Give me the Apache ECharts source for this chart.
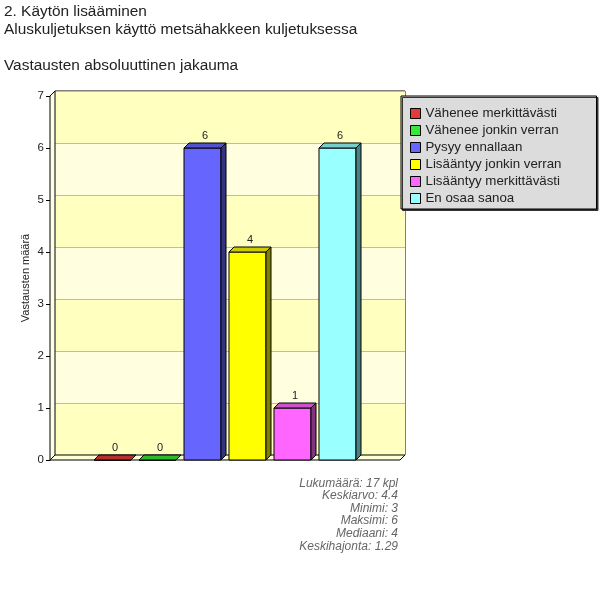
<!DOCTYPE html>
<html>
<head>
<meta charset="utf-8">
<script src="https://cdn.jsdelivr.net/npm/echarts@6/dist/echarts.min.js"></script>
<style>
  html, body { margin: 0; padding: 0; background: #fff; }
  #chart { width: 600px; height: 596px; }
</style>
</head>
<body>
<div id="chart"></div>
<script>
// data
var titleLines = ['2. Käytön lisääminen', 'Aluskuljetuksen käyttö metsähakkeen kuljetuksessa', '', 'Vastausten absoluuttinen jakauma'];
var categories = ['Vähenee merkittävästi', 'Vähenee jonkin verran', 'Pysyy ennallaan', 'Lisääntyy jonkin verran', 'Lisääntyy merkittävästi', 'En osaa sanoa'];
var counts = [0, 0, 6, 4, 1, 6];
var barColors = ['#E83838', '#38E838', '#6666FF', '#FFFF00', '#FF66FF', '#99FFFF'];
var yMin = 0, yMax = 7, yStep = 1;
var yName = 'Vastausten määrä';
var statLines = ['Lukumäärä: 17 kpl', 'Keskiarvo: 4.4', 'Minimi: 3', 'Maksimi: 6', 'Mediaani: 4', 'Keskihajonta: 1.29'];

// layout (front plane) and depth of the fake 3d
var FX = 50, FY = 96, FW = 350, FH = 364, D = 5;
var BAR_W = 37;
// x range in category units so the bars sit where they do in the picture
var XMIN = -1.389, XMAX = 6.389;
var FONT = '"Liberation Sans", Arial, sans-serif';

function shade(hex, f) {
  var n = parseInt(hex.slice(1), 16);
  var r = Math.round(((n >> 16) & 255) * f),
    g = Math.round(((n >> 8) & 255) * f),
    b = Math.round((n & 255) * f);
  return 'rgb(' + r + ',' + g + ',' + b + ')';
}

function renderBar(params, api) {
  var x = api.value(0), v = api.value(1);
  var p0 = api.coord([x, 0]), p1 = api.coord([x, v]);
  var col = api.visual('color');
  var left = p0[0] - BAR_W / 2, right = left + BAR_W;
  var top = p1[1], bottom = p0[1];
  var line = { stroke: '#000', lineWidth: 1 };
  return {
    type: 'group',
    children: [
      {
        type: 'rect',
        shape: { x: left, y: top, width: BAR_W, height: bottom - top },
        style: Object.assign({ fill: col }, line)
      },
      {
        type: 'polygon',
        shape: { points: [[left, top], [right, top], [right + D, top - D], [left + D, top - D]] },
        style: Object.assign({ fill: shade(col, 0.8) }, line)
      },
      {
        type: 'polygon',
        shape: { points: [[right, top], [right, bottom], [right + D, bottom - D], [right + D, top - D]] },
        style: Object.assign({ fill: shade(col, 0.5) }, line)
      },
      {
        type: 'text',
        x: p1[0] + D / 2,
        y: top - D - 2,
        style: {
          text: String(v),
          textAlign: 'center',
          textVerticalAlign: 'bottom',
          font: '11px ' + FONT,
          fill: '#222'
        }
      }
    ]
  };
}

var series = categories.map(function (name, i) {
  return {
    name: name,
    type: 'custom',
    xAxisIndex: 1,
    yAxisIndex: 1,
    z: 3,
    silent: true,
    itemStyle: { color: barColors[i] },
    renderItem: renderBar,
    data: [[i, counts[i]]]
  };
});

var chart = echarts.init(document.getElementById('chart'), null, { renderer: 'canvas' });

chart.setOption({
  animation: false,
  backgroundColor: '#fff',
  textStyle: { fontFamily: FONT },
  title: {
    text: titleLines.join('\n'),
    left: 4,
    top: 3,
    padding: 0,
    textStyle: { fontSize: 15.4, fontWeight: 'normal', color: '#222', lineHeight: 17.8 }
  },
  legend: {
    orient: 'vertical',
    left: 401,
    top: 96,
    padding: [11, 35, 4, 9],
    itemGap: 4,
    itemWidth: 10,
    itemHeight: 10,
    icon: 'rect',
    itemStyle: { borderColor: '#000', borderWidth: 1 },
    backgroundColor: '#DCDCDC',
    borderColor: '#000',
    borderWidth: 1,
    shadowColor: '#333',
    shadowOffsetX: 1.5,
    shadowOffsetY: 1.5,
    shadowBlur: 0,
    textStyle: { fontSize: 13.3, color: '#222' },
    data: categories,
    z: 10
  },
  grid: [
    // back wall
    { left: FX + D, top: FY - D, width: FW, height: FH, show: true, borderColor: '#000', borderWidth: 1, backgroundColor: 'transparent' },
    // front plane
    { left: FX, top: FY, width: FW, height: FH, show: false }
  ],
  xAxis: [
    { gridIndex: 0, type: 'value', min: XMIN, max: XMAX, show: false },
    { gridIndex: 1, type: 'value', min: XMIN, max: XMAX, show: false }
  ],
  yAxis: [
    {
      gridIndex: 0, type: 'value', min: yMin, max: yMax, interval: yStep,
      axisLine: { show: false, onZero: false }, axisTick: { show: false }, axisLabel: { show: false },
      splitLine: { show: true, lineStyle: { color: '#BBBBBB', width: 1 } },
      splitArea: { show: true, areaStyle: { color: ['#FFFFC0', '#FFFFE0'] } }
    },
    {
      gridIndex: 1, type: 'value', position: 'left', min: yMin, max: yMax, interval: yStep,
      axisLine: { show: true, onZero: false, lineStyle: { color: '#000', width: 1 } },
      axisTick: { show: true, length: 4, lineStyle: { color: '#000' } },
      axisLabel: { fontSize: 11.5, color: '#222', margin: 6 },
      splitLine: { show: false },
      name: yName,
      nameLocation: 'middle',
      nameGap: 19,
      nameMoveOverlap: false,
      nameTextStyle: { fontSize: 11, color: '#222' }
    }
  ],
  graphic: [
    {
      type: 'polygon', z: 1, silent: true,
      shape: { points: [[FX, FY + FH], [FX + FW, FY + FH], [FX + FW + D, FY + FH - D], [FX + D, FY + FH - D]] },
      style: { fill: '#FFFFD8', stroke: '#000', lineWidth: 1 }
    },
    {
      type: 'polygon', z: 1, silent: true,
      shape: { points: [[FX, FY], [FX + D, FY - D], [FX + D, FY + FH - D], [FX, FY + FH]] },
      style: { fill: '#FFFFE8', stroke: '#000', lineWidth: 1 }
    },
    {
      type: 'text', z: 5, silent: true,
      x: 398, y: 477,
      style: {
        text: statLines.join('\n'),
        textAlign: 'right',
        font: 'italic 12px ' + FONT,
        lineHeight: 12.6,
        fill: '#666'
      }
    }
  ],
  series: series
});
</script>
</body>
</html>
